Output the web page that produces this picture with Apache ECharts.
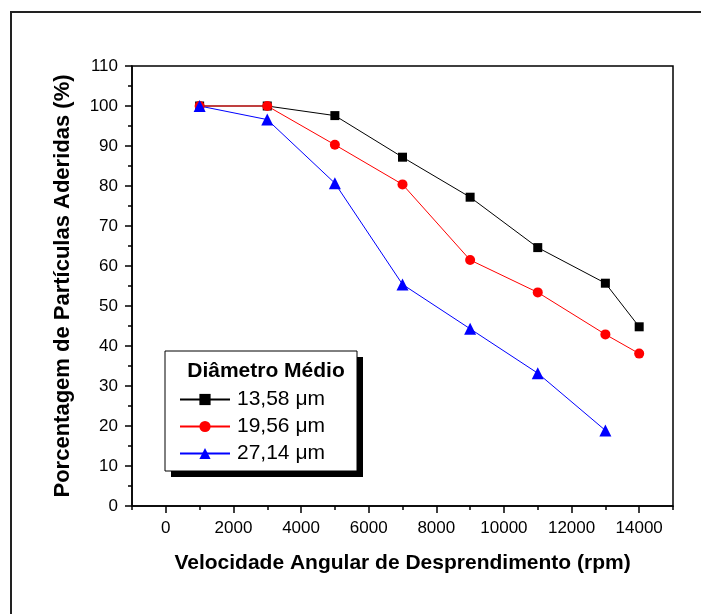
<!DOCTYPE html>
<html>
<head>
<meta charset="utf-8">
<script src="https://cdn.jsdelivr.net/npm/echarts@6/dist/echarts.min.js"></script>
<style>
  html, body { margin: 0; padding: 0; background: #fff; }
  #chart { width: 701px; height: 614px; }
</style>
</head>
<body>
<div id="chart"></div>
<script>
// Rotation speeds (rpm) at which adhesion was measured
const rpm = [1000, 3000, 5000, 7000, 9000, 11000, 13000, 14000];
const rpmBlue = [1000, 3000, 5000, 7000, 9000, 11000, 13000];

// Percentage of particles still adhered, per mean diameter
const d1358 = [100, 100, 97.6, 87.2, 77.2, 64.6, 55.7, 44.8];
const d1956 = [100, 100, 90.3, 80.4, 61.5, 53.4, 42.9, 38.1];
const d2714 = [100, 96.6, 80.7, 55.4, 44.3, 33.2, 18.9];

const seriesNames = ['13,58 \u03bcm', '19,56 \u03bcm', '27,14 \u03bcm'];

// Tick positions
const xMajorTicks = [0, 2000, 4000, 6000, 8000, 10000, 12000, 14000];
const xMinorTicks = [-1000, 1000, 3000, 5000, 7000, 9000, 11000, 13000, 15000];

const FONT = 'Liberation Sans, Arial, sans-serif';

function pairs(xs, ys) {
  return ys.map((y, i) => [xs[i], y]);
}

const chart = echarts.init(document.getElementById('chart'), null, { renderer: 'canvas' });

const option = {
  backgroundColor: '#fff',
  animation: false,
  grid: {
    left: 132, top: 66, right: 28, bottom: 108,
    show: true, borderColor: '#000', borderWidth: 1.5, backgroundColor: 'transparent'
  },
  xAxis: [
    {
      type: 'value', min: -1000, max: 15000,
      name: 'Velocidade Angular de Desprendimento (rpm)',
      nameLocation: 'middle', nameGap: 47, nameMoveOverlap: false,
      nameTextStyle: { fontFamily: FONT, fontWeight: 'bold', fontSize: 21, color: '#000' },
      axisLine: { show: true, onZero: false, lineStyle: { color: '#000', width: 1.5 } },
      axisTick: { show: true, inside: false, length: 7, customValues: xMajorTicks, lineStyle: { color: '#000', width: 1.5 } },
      axisLabel: { show: true, margin: 14, customValues: xMajorTicks, formatter: v => String(v),
                   fontFamily: FONT, fontSize: 17, color: '#000' },
      splitLine: { show: false }
    },
    {
      type: 'value', min: -1000, max: 15000, position: 'bottom',
      axisLine: { show: false, onZero: false },
      axisTick: { show: true, inside: false, length: 4, customValues: xMinorTicks, lineStyle: { color: '#000', width: 1.5 } },
      axisLabel: { show: false },
      splitLine: { show: false }
    }
  ],
  yAxis: {
    type: 'value', min: 0, max: 110, interval: 10,
    name: 'Porcentagem de Part\u00edculas Aderidas (%)',
    nameLocation: 'middle', nameGap: 58, nameMoveOverlap: false,
    nameTextStyle: { fontFamily: FONT, fontWeight: 'bold', fontSize: 22, color: '#000' },
    axisLine: { show: true, onZero: false, lineStyle: { color: '#000', width: 1.5 } },
    axisTick: { show: true, inside: false, length: 7, lineStyle: { color: '#000', width: 1.5 } },
    minorTick: { show: true, splitNumber: 2, length: 4, lineStyle: { color: '#000', width: 1.5 } },
    axisLabel: { margin: 14, fontFamily: FONT, fontSize: 17, color: '#000' },
    splitLine: { show: false }
  },
  legend: {
    orient: 'vertical',
    left: 179, top: 389, padding: 0,
    itemWidth: 50, itemHeight: 14, itemGap: 6,
    z: 10,
    data: seriesNames,
    textStyle: { fontFamily: FONT, fontSize: 21, color: '#000', lineHeight: 21, padding: [0, 0, 0, 2] }
  },
  graphic: [
    // outer page frame
    { type: 'rect', z: 0, silent: true, shape: { x: 11, y: 12, width: 720, height: 640 },
      style: { fill: 'none', stroke: '#222', lineWidth: 2 } },
    // legend box with hard drop shadow
    { type: 'rect', z: 5, silent: true, shape: { x: 171, y: 357, width: 192, height: 120 },
      style: { fill: '#000' } },
    { type: 'rect', z: 6, silent: true, shape: { x: 165, y: 351, width: 192, height: 120 },
      style: { fill: '#fff', stroke: '#000', lineWidth: 1 } },
    { type: 'text', z: 7, silent: true, x: 266, y: 371,
      style: { text: 'Di\u00e2metro M\u00e9dio', fontFamily: FONT, fontWeight: 'bold', fontSize: 21,
               fill: '#000', align: 'center', verticalAlign: 'middle' } }
  ],
  series: [
    {
      name: seriesNames[0], type: 'line', data: pairs(rpm, d1358),
      symbol: 'rect', symbolSize: 9,
      lineStyle: { color: '#000', width: 1 }, itemStyle: { color: '#000' }
    },
    {
      name: seriesNames[1], type: 'line', data: pairs(rpm, d1956),
      symbol: 'circle', symbolSize: 10,
      lineStyle: { color: '#ff0000', width: 1 }, itemStyle: { color: '#ff0000' }
    },
    {
      name: seriesNames[2], type: 'line', data: pairs(rpmBlue, d2714),
      symbol: 'triangle', symbolSize: 12,
      lineStyle: { color: '#0000ff', width: 1 }, itemStyle: { color: '#0000ff' }
    }
  ]
};

chart.setOption(option);
</script>
</body>
</html>
